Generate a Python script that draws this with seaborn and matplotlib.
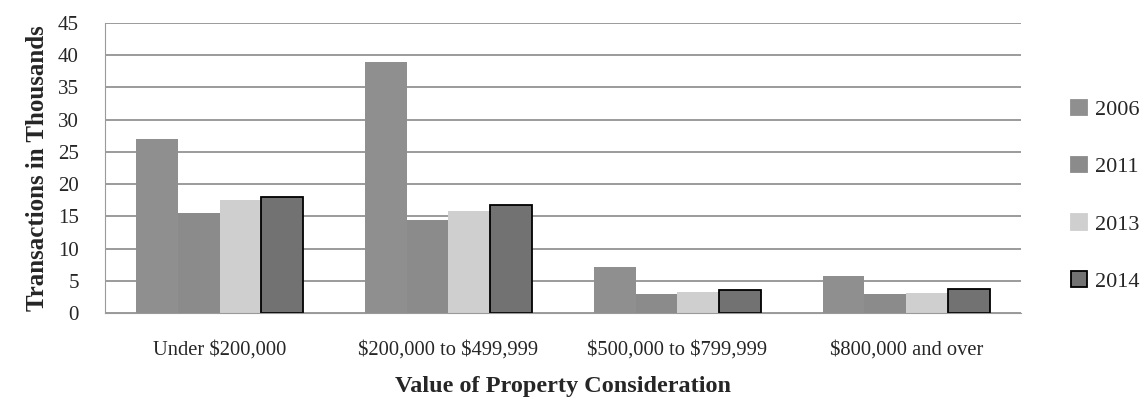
import pandas as pd
import matplotlib.pyplot as plt
import seaborn as sns
from matplotlib.patches import Patch

# data (thousands of transactions)
categories = ["Under $200,000", "$200,000 to $499,999", "$500,000 to $799,999", "$800,000 and over"]
years = ["2006", "2011", "2013", "2014"]
v2006 = [27.0, 39.0, 7.1, 5.8]
v2011 = [15.5, 14.4, 2.9, 3.0]
v2013 = [17.6, 15.9, 3.2, 3.1]
v2014 = [18.0, 16.8, 3.6, 3.7]
colors = ["#8f8f8f", "#8b8b8b", "#cfcfcf", "#727272"]

rows = []
for year, vals in zip(years, [v2006, v2011, v2013, v2014]):
    for cat, v in zip(categories, vals):
        rows.append({"Category": cat, "Year": year, "Value": v})
df = pd.DataFrame(rows)

sns.set_style("white")
plt.rcParams["font.family"] = ["Liberation Serif", "DejaVu Serif"]
plt.rcParams["text.parse_math"] = False

fig = plt.figure(figsize=(11.43, 4.19), dpi=100)
ax = fig.add_axes([0.092, 0.253, 0.801, 0.692])

sns.barplot(data=df, x="Category", y="Value", hue="Year", order=categories,
            hue_order=years, palette=colors, width=0.73, gap=0,
            saturation=1, linewidth=0, legend=False, ax=ax)

# black outline on the 2014 bars only
for bar in ax.containers[3]:
    bar.set_edgecolor("black")
    bar.set_linewidth(1.3)

ax.set_ylim(0, 45)
ax.set_yticks(range(0, 46, 5))
ax.set_xlim(-0.5, len(categories) - 0.5)
ax.yaxis.grid(True, color="#8a8a8a", linewidth=1.2)
ax.set_axisbelow(True)
for side in ["top", "right"]:
    ax.spines[side].set_visible(False)
for side in ["left", "bottom"]:
    ax.spines[side].set_color("#9a9a9a")

ax.tick_params(axis="x", which="major", length=0, labelsize=14.8, pad=20)
ax.set_xticks([i - 0.5 for i in range(len(categories) + 1)], minor=True)
ax.tick_params(axis="x", which="minor", length=7, color="#9a9a9a", direction="out")
ax.tick_params(axis="y", length=5, color="#9a9a9a", labelsize=15, pad=14)

ax.set_xlabel("Value of Property Consideration", fontsize=17.5, fontweight="bold", labelpad=12)
ax.set_ylabel("Transactions in Thousands", fontsize=18, fontweight="bold", labelpad=6)

handles = [Patch(facecolor=c, edgecolor=("black" if y == "2014" else c), linewidth=1.3)
           for c, y in zip(colors, years)]
fig.legend(handles, years, loc="upper left", bbox_to_anchor=(0.937, 0.762),
           frameon=False, fontsize=16, labelspacing=1.65, handlelength=0.7,
           handleheight=0.7, handletextpad=0.4, borderaxespad=0, borderpad=0)

plt.savefig("out.png", dpi=100)
plt.close()
